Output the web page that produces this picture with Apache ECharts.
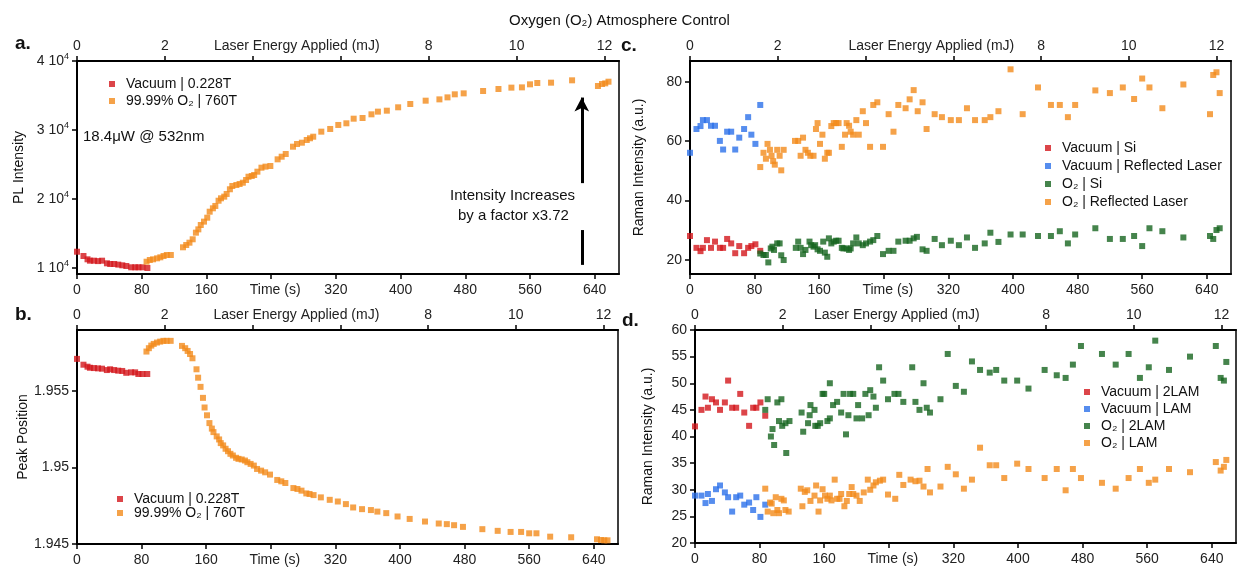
<!DOCTYPE html>
<html>
<head>
<meta charset="utf-8">
<title>Oxygen (O2) Atmosphere Control</title>
<script src="https://cdn.jsdelivr.net/npm/echarts@6.0.0/dist/echarts.min.js"></script>
<style>
  html, body { margin: 0; padding: 0; background: #fff; }
  #chart { width: 1239px; height: 568px; }
</style>
</head>
<body>
<div id="chart"></div>
<script>
// ---- data ----
// time (s) of every spectrum taken under vacuum (shared by all four panels)
const vacTime = [0, 8, 13, 16, 21, 26, 31, 37, 41, 46, 51, 56, 61, 67, 72, 76, 81, 87];

// a. PL intensity
const aVacInt = [12360, 11740, 11260, 11060, 11060, 11000, 11060, 10680, 10580, 10580, 10490, 10390, 10290, 10100, 10100, 10100, 10100, 10000];
const aO2Time = [86, 90, 94, 99, 103, 107, 111, 116, 131, 135, 139, 143, 147, 150, 153, 157, 161, 164,
  168, 171, 175, 178, 182, 185, 189, 192, 197, 201, 205, 209, 212, 216, 219, 223, 228, 233, 239, 248,
  253, 258, 267, 272, 278, 284, 288, 292, 302, 313, 323, 333, 342, 353, 364, 372, 383, 397, 412, 431,
  448, 458, 467, 478, 502, 521, 537, 550, 560, 569, 586, 612, 644, 649, 653, 657];
const aO2Int = [10910, 11160, 11260, 11400, 11550, 11740, 11880, 11880, 13000, 13330, 13670, 14160, 15120, 15600, 16230, 16720, 17290, 18160,
  18650, 18990, 19750, 20100, 20340, 20730, 21410, 21880, 22030, 22170, 22360, 22750, 23230, 23330, 23480, 23960, 24540, 24690, 24780, 25750,
  26130, 26520, 27580, 27970, 28160, 28550, 28800, 29030, 29760, 30150, 30730, 30970, 31640, 31740, 32270, 32660, 32800, 33290, 33770, 34250,
  34440, 34730, 35170, 35310, 35650, 35940, 36140, 36180, 36620, 36810, 36860, 37200, 36380, 36670, 36760, 37000];

// b. peak position
const bVacPos = [1.95711, 1.95673, 1.9566, 1.95653, 1.95651, 1.95649, 1.95647, 1.95638, 1.95643, 1.95638, 1.95634, 1.95632, 1.9562, 1.95623, 1.95623, 1.95612, 1.95612, 1.95612];
const bO2Time = [86, 89, 92, 95, 99, 103, 107, 111, 116, 130, 134, 137, 140, 143, 148, 150, 153, 156, 158,
  161, 164, 167, 169, 173, 176, 178, 181, 184, 187, 190, 193, 197, 200, 204, 208, 211, 215, 219, 223,
  228, 233, 239, 248, 253, 258, 268, 273, 278, 284, 288, 293, 302, 313, 323, 333, 342, 353, 364, 372,
  383, 397, 412, 431, 448, 458, 467, 478, 502, 521, 537, 550, 560, 569, 586, 612, 644, 649, 653, 657];
const bO2Pos = [1.95759, 1.95781, 1.95798, 1.95809, 1.95818, 1.95824, 1.95829, 1.95829, 1.95829, 1.95796, 1.95781, 1.95763, 1.95743, 1.95715, 1.95643, 1.95588, 1.95528, 1.95456, 1.95393,
  1.95342, 1.95291, 1.95255, 1.95232, 1.95204, 1.95184, 1.9516, 1.95145, 1.95123, 1.95107, 1.9509, 1.95079, 1.95064, 1.95057, 1.95053, 1.95046, 1.95035, 1.95024, 1.95013, 1.94991,
  1.9498, 1.94969, 1.94954, 1.94919, 1.9491, 1.94899, 1.94866, 1.9486, 1.94849, 1.94831, 1.94827, 1.9482, 1.94805, 1.94789, 1.94778, 1.94761, 1.94739, 1.94728, 1.94722, 1.94712,
  1.94702, 1.9468, 1.94664, 1.94647, 1.94634, 1.9463, 1.94623, 1.94612, 1.94597, 1.94586, 1.94579, 1.94579, 1.9457, 1.9457, 1.94548, 1.94544, 1.94531, 1.94526, 1.94524, 1.94524];

// c. Raman intensity, Si line and reflected laser
const cVacSi = [28.1, 24.1, 23, 24.1, 26.7, 24.1, 26.2, 24.1, 24.1, 27.1, 25.6, 22.3, 24.7, 22.3, 24.1, 24.7, 25.3, 23.1];
const cVacLaser = [56.1, 64.1, 65.1, 67.1, 67.1, 65.2, 65.2, 60.1, 57.2, 63.2, 63.2, 57.2, 61.2, 64.1, 68.1, 62.2, 59.1, 72.2];
const cO2SiTime = [87, 91, 94, 97, 100, 102, 104, 108, 111, 113, 116, 131, 134, 137, 140, 143, 148, 150, 153, 155,
  158, 161, 165, 167, 170, 172, 175, 178, 181, 184, 188, 190, 194, 197, 199, 202, 206, 209, 214, 218,
  223, 227, 232, 239, 246, 252, 258, 267, 272, 277, 281, 288, 293, 303, 312, 323, 333, 343, 353, 365,
  372, 382, 397, 412, 431, 447, 458, 468, 477, 502, 520, 536, 550, 560, 569, 585, 611, 644, 648, 652, 656];
const cO2Si = [22.2, 21.7, 21.7, 19.2, 23.9, 24.5, 23.4, 25.6, 25.6, 21.6, 20, 24.1, 26.2, 24.1, 22, 23.4, 26.2, 25, 24.5, 25,
  23.6, 23.1, 26.2, 22.5, 21.1, 27.3, 25.6, 26.2, 26.5, 26.5, 24.1, 23.9, 23.9, 23.4, 23.9, 25.6, 27.6, 25.6, 25, 25.6,
  26.2, 26.7, 28.1, 22, 23.1, 23.1, 26.2, 26.5, 26.5, 27.3, 27.8, 23.6, 23.1, 27.1, 25, 26.5, 25, 27.6, 24.1, 25.6,
  29.2, 26.1, 28.6, 28.6, 28.1, 28.1, 29.7, 25.6, 28.6, 30.7, 27.1, 27.1, 28.1, 24.7, 30.7, 29.7, 27.6, 28.1, 27.1, 30.1, 30.7];
const cO2LaserTime = [87, 91, 94, 96, 99, 101, 103, 105, 108, 111, 113, 116, 130, 134, 137, 140, 143, 146, 149, 153,
  156, 158, 161, 164, 167, 170, 172, 175, 178, 181, 184, 188, 192, 194, 197, 199, 202, 206, 209, 214,
  218, 223, 227, 232, 239, 246, 252, 258, 267, 272, 277, 282, 288, 293, 303, 312, 323, 333, 343, 353,
  365, 372, 382, 397, 412, 431, 447, 458, 468, 477, 502, 520, 536, 550, 560, 569, 585, 611, 644, 648, 652, 656];
const cO2Laser = [51.3, 56.1, 54.1, 59.1, 57.1, 55.1, 53.3, 52.1, 57.1, 55.1, 50.2, 57.1, 60.1, 60.1, 55.1, 61.2, 57.1, 56.1, 55.1, 55.1,
  64.1, 66.1, 59.1, 62.2, 54.1, 56.1, 56.1, 65.1, 66.1, 66.1, 66.1, 58.1, 62.2, 66.1, 65.2, 63.2, 62.2, 67.1, 62.2, 70.1,
  66.1, 58.1, 72.2, 73.1, 58.1, 69.1, 63.2, 72.2, 71.1, 74.1, 77.2, 70.1, 73.1, 64.1, 69.1, 68.1, 67.1, 67.1, 71.1, 67.1,
  67.1, 68.1, 70.1, 84.2, 69.1, 78.1, 72.2, 72.2, 68.1, 72.2, 77.1, 76.2, 78.1, 74.2, 81.1, 78.1, 71.1, 79.1, 69.1, 82.3, 83.2, 76.2];

// d. Raman intensity, 2LAM and LAM modes
const dVac2LAM = [41.9, 45, 47.5, 45.4, 47, 46.4, 45, 46.4, 50.5, 45.4, 45.4, 48, 44.5, 42, 45.4, 45.4, 46.4, 43.9];
const dVacLAM = [28.9, 28.9, 27.5, 29.2, 27.9, 30.1, 30.8, 29.5, 28.6, 25.9, 28.6, 28.9, 27.2, 27.6, 26.2, 28.6, 24.9, 27.2];
const d2LAMTime = [87, 90, 94, 96, 98, 102, 104, 107, 108, 112, 113, 117, 132, 134, 140, 142, 143, 148, 149, 152,
  155, 158, 160, 164, 167, 167, 171, 176, 181, 184, 187, 190, 192, 196, 200, 202, 207, 211, 215, 217,
  221, 224, 228, 233, 239, 247, 252, 258, 269, 273, 278, 283, 287, 291, 304, 313, 323, 333, 343, 353,
  365, 373, 383, 399, 413, 433, 448, 459, 468, 478, 504, 521, 537, 551, 562, 570, 587, 613, 645, 651, 655, 658];
const dO22LAM = [45, 47, 40, 41.4, 38.4, 46.4, 42.9, 47, 42, 42.5, 36.9, 42.9, 44.5, 40.9, 42.5, 44, 45.9, 45, 42, 42,
  42.5, 48, 48, 42.9, 43.4, 50, 45.9, 46.5, 44.5, 48, 40.4, 44, 48, 48, 43.4, 45.9, 43.4, 48, 44, 48.7,
  47.5, 45.4, 53, 50.5, 47, 48, 48, 46.5, 53, 46.5, 45, 50, 45.4, 44.5, 47, 55.5, 49.5, 48.4, 54.1, 52.5,
  52, 52.5, 50.5, 50.5, 49, 52.5, 51.5, 51, 53.5, 57, 55.5, 53.5, 55.5, 51, 53, 58, 52.5, 55, 57, 51, 50.5, 54];
const dLAMTime = [87, 90, 93, 95, 97, 100, 102, 104, 107, 110, 112, 116, 131, 133, 136, 139, 143, 148, 150, 153,
  155, 158, 161, 164, 167, 169, 173, 176, 179, 181, 185, 188, 191, 194, 196, 200, 204, 209, 214, 217,
  221, 224, 229, 233, 239, 248, 253, 258, 267, 273, 278, 283, 288, 291, 304, 313, 323, 333, 343, 353,
  365, 373, 383, 399, 413, 433, 448, 459, 468, 478, 504, 521, 537, 551, 562, 570, 587, 613, 645, 651, 655, 658];
const dO2LAM = [30.2, 25.9, 27.6, 27.4, 25.6, 28.6, 26.2, 25.6, 28.3, 28, 26.2, 25.9, 30.2, 26.9, 29.6, 29.9, 27.9, 28.9, 30.8, 25.9,
  28, 30.1, 28.9, 28.3, 28.9, 28, 31.9, 28.3, 28.3, 29.2, 26.9, 27.9, 29.2, 30.5, 29.2, 28.9, 27.9, 29.5, 31.9, 30,
  30.8, 31.4, 31.7, 31.9, 29.1, 28.3, 32.8, 30.9, 31.9, 31.6, 31.7, 30.6, 33.9, 29.5, 30.6, 34.3, 32.9, 30.2, 31.9, 37.9,
  34.6, 34.6, 32.2, 34.9, 33.9, 32.2, 33.9, 29.9, 33.9, 32.2, 31.3, 30.2, 32.2, 33.9, 31.3, 31.9, 33.9, 33.3, 35.2, 33.6, 34.3, 35.6];

// axes
const timeTicks = [0, 80, 160, 240, 320, 400, 480, 560, 640];
const timeLabels = [0, 80, 160, 245, 320, 400, 480, 560, 640];   // 245 carries the axis name
const energyTicks = [0, 2, 4, 6, 8, 10, 12];
const aTicks = [10000, 20000, 30000, 40000];
const bTicks = [1.945, 1.95, 1.955];
const cTicks = [20, 40, 60, 80];
const laserPower = 0.0184;   // mJ/s  (18.4 µW)
const tMax = 670;

const RED = '#d3161b', ORANGE = '#f38b1c', BLUE = '#2c70ea', GREEN = '#17651f';
const FONT = 'Liberation Sans, Arial, sans-serif';

const zip = (xs, ys) => xs.map((x, i) => [x, ys[i]]);

const grids = [
  { left: 77, top: 61, width: 542, height: 213 },
  { left: 77, top: 330, width: 541, height: 214 },
  { left: 690, top: 61, width: 541, height: 213 },
  { left: 695, top: 330, width: 541, height: 213 }
];

const axisLine = { show: true, lineStyle: { color: '#000', width: 2 } };
const axisTick = { show: true, length: 5, inside: false, lineStyle: { color: '#000', width: 1.5 } };

function timeAxis(g) {
  return {
    type: 'value', gridIndex: g, position: 'bottom', min: 0, max: tMax,
    axisLine, splitLine: { show: false },
    axisTick: { ...axisTick, customValues: timeTicks },
    axisLabel: {
      color: '#222', fontSize: 14, margin: 9, customValues: timeLabels,
      formatter: v => (v === 245 ? 'Time (s)' : String(v))
    }
  };
}

function energyAxis(g, namePos) {
  return {
    type: 'value', gridIndex: g, position: 'top', min: 0, max: tMax * laserPower,
    axisLine, splitLine: { show: false },
    axisTick: { ...axisTick, customValues: energyTicks },
    axisLabel: {
      color: '#222', fontSize: 14, margin: 8,
      customValues: [0, 2, namePos, 8, 10, 12],
      formatter: v => (v === namePos ? 'Laser Energy Applied (mJ)' : String(v))
    }
  };
}

function valueAxis(g, name, gap, extra) {
  return Object.assign({
    type: 'value', gridIndex: g, position: 'left',
    name, nameLocation: 'middle', nameGap: gap,
    nameTextStyle: { color: '#111', fontSize: 14 },
    axisLine, splitLine: { show: false },
    axisTick: { ...axisTick },
    axisLabel: { color: '#222', fontSize: 14, margin: 8 }
  }, extra);
}

function dots(name, g, data, color, extra) {
  return Object.assign({
    name, type: 'scatter', xAxisIndex: g * 2, yAxisIndex: g,
    symbol: 'rect', symbolSize: 6, data,
    itemStyle: { color }
  }, extra);
}

function legend(names, left, top, gap) {
  return {
    data: names, left, top, orient: 'vertical', icon: 'rect',
    itemWidth: 6, itemHeight: 6, itemGap: gap, selectedMode: false,
    textStyle: { color: '#111', fontSize: 14, lineHeight: 16, padding: [0, 0, 0, 6] }
  };
}

const V1 = 'Vacuum | 0.228T', O1 = '99.99% O₂ | 760T';

const option = {
  animation: false,
  textStyle: { fontFamily: FONT },
  title: {
    text: 'Oxygen (O₂) Atmosphere Control', left: 'center', top: 8,
    textStyle: { fontFamily: FONT, fontSize: 15, fontWeight: 'normal', color: '#111' }
  },
  grid: grids.map(g => Object.assign({ show: true, borderColor: '#000', borderWidth: 1.5, backgroundColor: 'transparent' }, g)),
  xAxis: [
    timeAxis(0), energyAxis(0, 5),
    timeAxis(1), energyAxis(1, 5),
    timeAxis(2), energyAxis(2, 5.5),
    timeAxis(3), energyAxis(3, 4.6)
  ],
  yAxis: [
    valueAxis(0, 'PL Intensity', 51, {
      min: 9130, max: 40000,
      axisTick: { ...axisTick, customValues: aTicks },
      axisLabel: {
        color: '#222', fontSize: 14, margin: 8, customValues: aTicks,
        formatter: v => '{m|' + v / 10000 + ' 10}{s|4}',
        rich: { m: { fontSize: 14, color: '#222' }, s: { fontSize: 9, color: '#222', padding: [0, 0, 9, 0] } }
      }
    }),
    valueAxis(1, 'Peak Position', 44, {
      min: 1.945, max: 1.959,
      axisTick: { ...axisTick, customValues: bTicks },
      axisLabel: { color: '#222', fontSize: 14, margin: 8, customValues: bTicks, formatter: v => String(+v.toFixed(3)) }
    }),
    valueAxis(2, 'Raman Intensity (a.u.)', 44, {
      min: 15.3, max: 87,
      axisTick: { ...axisTick, customValues: cTicks },
      axisLabel: { color: '#222', fontSize: 14, margin: 8, customValues: cTicks }
    }),
    valueAxis(3, 'Raman Intensity (a.u.)', 40, { min: 20, max: 60, interval: 5 })
  ],
  legend: [
    legend([V1, O1], 104, 71, 1),
    legend([V1, O1], 112, 486, -2),
    legend(['Vacuum | Si', 'Vacuum | Reflected Laser', 'O₂ | Si', 'O₂ | Reflected Laser'], 1040, 135, 2),
    legend(['Vacuum | 2LAM', 'Vacuum | LAM', 'O₂ | 2LAM', 'O₂ | LAM'], 1079, 379, 1)
  ],
  series: [
    dots(V1, 0, zip(vacTime, aVacInt), RED),
    dots(O1, 0, zip(aO2Time, aO2Int), ORANGE, {
      markLine: {
        silent: true, animation: false,
        symbol: ['none', 'arrow'], symbolSize: [11, 14],
        lineStyle: { color: '#000', width: 3, type: 'solid' },
        label: { show: false },
        data: [
          [{ coord: [624, 22300] }, { coord: [624, 34700] }],
          [{ coord: [624, 10450], symbol: 'none' }, { coord: [624, 15500], symbol: 'none' }]
        ]
      }
    }),
    dots(V1, 1, zip(vacTime, bVacPos), RED),
    dots(O1, 1, zip(bO2Time, bO2Pos), ORANGE),
    dots('Vacuum | Si', 2, zip(vacTime, cVacSi), RED),
    dots('Vacuum | Reflected Laser', 2, zip(vacTime, cVacLaser), BLUE),
    dots('O₂ | Si', 2, zip(cO2SiTime, cO2Si), GREEN),
    dots('O₂ | Reflected Laser', 2, zip(cO2LaserTime, cO2Laser), ORANGE),
    dots('Vacuum | 2LAM', 3, zip(vacTime, dVac2LAM), RED),
    dots('Vacuum | LAM', 3, zip(vacTime, dVacLAM), BLUE),
    dots('O₂ | 2LAM', 3, zip(d2LAMTime, dO22LAM), GREEN),
    dots('O₂ | LAM', 3, zip(dLAMTime, dO2LAM), ORANGE)
  ],
  graphic: [
    { type: 'text', left: 15, top: 34, style: { text: 'a.', font: 'bold 19px ' + FONT, fill: '#111' } },
    { type: 'text', left: 15, top: 305, style: { text: 'b.', font: 'bold 19px ' + FONT, fill: '#111' } },
    { type: 'text', left: 621, top: 36, style: { text: 'c.', font: 'bold 19px ' + FONT, fill: '#111' } },
    { type: 'text', left: 622, top: 311, style: { text: 'd.', font: 'bold 19px ' + FONT, fill: '#111' } },
    { type: 'text', left: 83, top: 129, style: { text: '18.4μW @ 532nm', font: '15px ' + FONT, fill: '#111' } },
    { type: 'text', left: 450, top: 188, style: { text: 'Intensity Increases', font: '15px ' + FONT, fill: '#111' } },
    { type: 'text', left: 458, top: 208, style: { text: 'by a factor x3.72', font: '15px ' + FONT, fill: '#111' } }
  ]
};

const chart = echarts.init(document.getElementById('chart'), null, { renderer: 'canvas' });
chart.setOption(option);
window.addEventListener('resize', () => chart.resize());
</script>
</body>
</html>
